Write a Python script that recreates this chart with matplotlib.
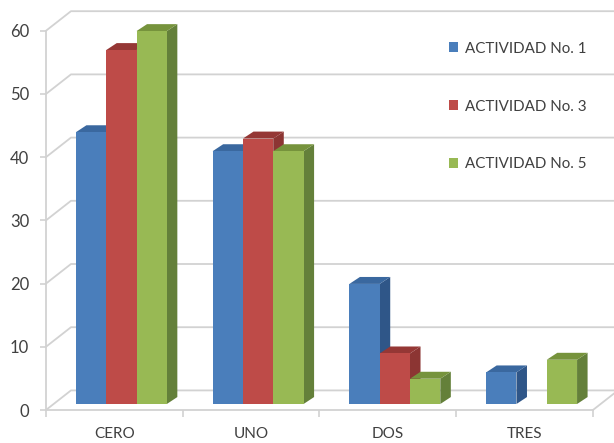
import matplotlib
matplotlib.use('Agg')
import matplotlib.pyplot as plt
from matplotlib.patches import Polygon, Patch

categorias = ['CERO', 'UNO', 'DOS', 'TRES']
actividades = ['ACTIVIDAD No. 1', 'ACTIVIDAD No. 3', 'ACTIVIDAD No. 5']
actividad_1 = [43, 40, 19, 5]
actividad_3 = [56, 42, 8, 0]
actividad_5 = [59, 40, 4, 7]
series = [actividad_1, actividad_3, actividad_5]

# cara frontal, tapa y lateral de cada serie
colores = [('#4a7ebb', '#3a689f', '#2f5688'),
           ('#be4b48', '#953735', '#8c3533'),
           ('#98b954', '#76933c', '#64803a')]

plt.rcParams['font.family'] = ['Lato', 'DejaVu Sans']
GRIS = '#d2d2d2'
TEXTO = '#404040'

fig = plt.figure(figsize=(6.14, 4.43), dpi=100)
ax = fig.add_axes([0, 0, 1, 1])
ax.set_xlim(-0.836, 3.654)
ax.set_ylim(-5.22, 64.87)
ax.patch.set_visible(False)

# profundidad de las paredes y de las barras, en unidades de datos
pared_dx, pared_dy = 0.183, 3.1
barra_dx, barra_dy = 0.077, 1.1
base = 0.95
ancho = 0.2216
margen = 0.219

# paredes del grafico
for v in range(0, 70, 10):
    ax.plot([-0.5, -0.5 + pared_dx, 3.5 + pared_dx], [v, v + pared_dy, v + pared_dy],
            color=GRIS, lw=1.3, zorder=1, clip_on=True)
ax.plot([3.5, 3.5 + pared_dx], [0, pared_dy], color=GRIS, lw=1.3, zorder=1)

# barras, de izquierda a derecha para que se tapen bien
for i, cat in enumerate(categorias):
    for j, valores in enumerate(series):
        v = valores[i]
        if v == 0:
            continue
        x0 = i - 0.5 + margen + j * ancho
        x1 = x0 + ancho
        y0 = base
        y1 = v + base
        frente, tapa, lado = colores[j]
        ax.add_patch(Polygon([(x1, y0), (x1 + barra_dx, y0 + barra_dy),
                              (x1 + barra_dx, y1 + barra_dy), (x1, y1)],
                             facecolor=lado, edgecolor='none', zorder=3))
        ax.add_patch(Polygon([(x0, y1), (x0 + barra_dx, y1 + barra_dy),
                              (x1 + barra_dx, y1 + barra_dy), (x1, y1)],
                             facecolor=tapa, edgecolor='none', zorder=3))
        ax.bar(x0, v, width=ancho, bottom=y0, align='edge', color=frente, zorder=3)

for lado in ['top', 'right']:
    ax.spines[lado].set_visible(False)
ax.spines['left'].set_position(('data', -0.5))
ax.spines['bottom'].set_position(('data', 0))
ax.spines['left'].set_bounds(0, 60)
ax.spines['bottom'].set_bounds(-0.5, 3.5)
ax.spines['left'].set_color(GRIS)
ax.spines['bottom'].set_color(GRIS)
ax.spines['left'].set_linewidth(1.3)
ax.spines['bottom'].set_linewidth(1.3)

ax.set_yticks(range(0, 70, 10))
ax.tick_params(axis='y', length=4, width=1.2, color=GRIS, labelcolor=TEXTO, labelsize=12, pad=8)
ax.set_xticks([-0.5, 0.5, 1.5, 2.5, 3.5])
ax.set_xticklabels([])
ax.set_xticks(range(4), minor=True)
ax.set_xticklabels(categorias, minor=True)
ax.tick_params(axis='x', which='major', length=5, width=1.2, color=GRIS)
ax.tick_params(axis='x', which='minor', length=0, labelcolor=TEXTO, labelsize=11, pad=12.5)

handles = [Patch(facecolor=c[0], edgecolor='none') for c in colores]
leg = ax.legend(handles, actividades, loc='upper left', bbox_to_anchor=(0.731, 0.906),
                frameon=False, fontsize=10.9, labelcolor=TEXTO, labelspacing=2.9,
                handlelength=0.6, handleheight=0.6, handletextpad=0.45,
                borderaxespad=0, borderpad=0)

fig.savefig('out.png', dpi=100)
